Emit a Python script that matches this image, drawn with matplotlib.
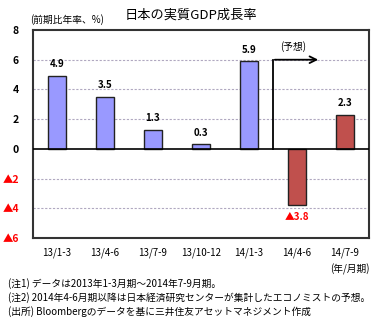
import matplotlib.pyplot as plt
import numpy as np

plt.rcParams['font.family'] = ['Noto Sans CJK JP', 'DejaVu Sans']

# data
quarters = ['13/1-3', '13/4-6', '13/7-9', '13/10-12', '14/1-3', '14/4-6', '14/7-9']
growth = [4.9, 3.5, 1.3, 0.3, 5.9, -3.8, 2.3]
is_forecast = [False, False, False, False, False, True, True]
ytick_vals = [8, 6, 4, 2, 0, -2, -4, -6]
ytick_labels = ['8', '6', '4', '2', '0', '▲2', '▲4', '▲6']
value_labels = ['4.9', '3.5', '1.3', '0.3', '5.9', '▲3.8', '2.3']
notes = ['(注1) データは2013年1-3月期～2014年7-9月期。',
         '(注2) 2014年4-6月期以降は日本経済研究センターが集計したエコノミストの予想。',
         '(出所) Bloombergのデータを基に三井住友アセットマネジメント作成']

fig = plt.figure(figsize=(3.82, 3.24), dpi=100)
ax = fig.add_axes([33/382, 1-238/324, 336/382, 208/324])

x = np.arange(len(quarters))
colors = ['#C0504D' if f else '#9999FF' for f in is_forecast]
ax.bar(x, growth, width=0.36, color=colors, edgecolor='#222222', linewidth=1.0, zorder=3)

ax.set_xlim(-0.5, len(quarters) - 0.5)
ax.set_ylim(-6, 8)
ax.set_yticks(ytick_vals)
ax.set_yticklabels(ytick_labels, fontsize=7.5)
for lab, v in zip(ax.get_yticklabels(), ytick_vals):
    lab.set_color('red' if v < 0 else 'black')
    lab.set_fontweight('bold')
ax.tick_params(axis='y', length=0, pad=10)
ax.set_xticks(x)
ax.set_xticklabels(quarters, fontsize=7)
ax.tick_params(axis='x', length=0, pad=7)

for v in [6, 4, 2, -2, -4]:
    ax.axhline(v, color='#B0A8C0', linestyle=(0, (2, 1.5)), linewidth=0.8, zorder=1)
ax.axhline(0, color='black', linewidth=1.2, zorder=4)
for s in ax.spines.values():
    s.set_linewidth(1.5)
    s.set_color('#333333')

for xi, v, t in zip(x, growth, value_labels):
    if v >= 0:
        ax.text(xi, v + 0.45, t, ha='center', va='bottom', fontsize=7, fontweight='bold')
    else:
        ax.text(xi, v - 0.45, t, ha='center', va='top', fontsize=7, fontweight='bold', color='red')

# forecast arrow
ax.plot([4.5, 4.5], [0, 6], color='black', linewidth=1.3, zorder=5)
ax.annotate('', xy=(5.5, 6), xytext=(4.48, 6),
            arrowprops=dict(arrowstyle='->', color='black', lw=1.3, mutation_scale=12))
ax.text(4.65, 6.5, '(予想)', fontsize=7, ha='left', va='bottom')

fig.text(0.5, 1-15/324, '日本の実質GDP成長率', ha='center', va='center', fontsize=9.5)
fig.text(30/382, 1-20/324, '(前期比年率、%)', ha='left', va='center', fontsize=7)
fig.text(370/382, 1-269/324, '(年/月期)', ha='right', va='center', fontsize=7)
for i, n in enumerate(notes):
    fig.text(8/382, 1-(284 + i*14)/324, n, ha='left', va='center', fontsize=7)

fig.savefig('out.png', dpi=100)
